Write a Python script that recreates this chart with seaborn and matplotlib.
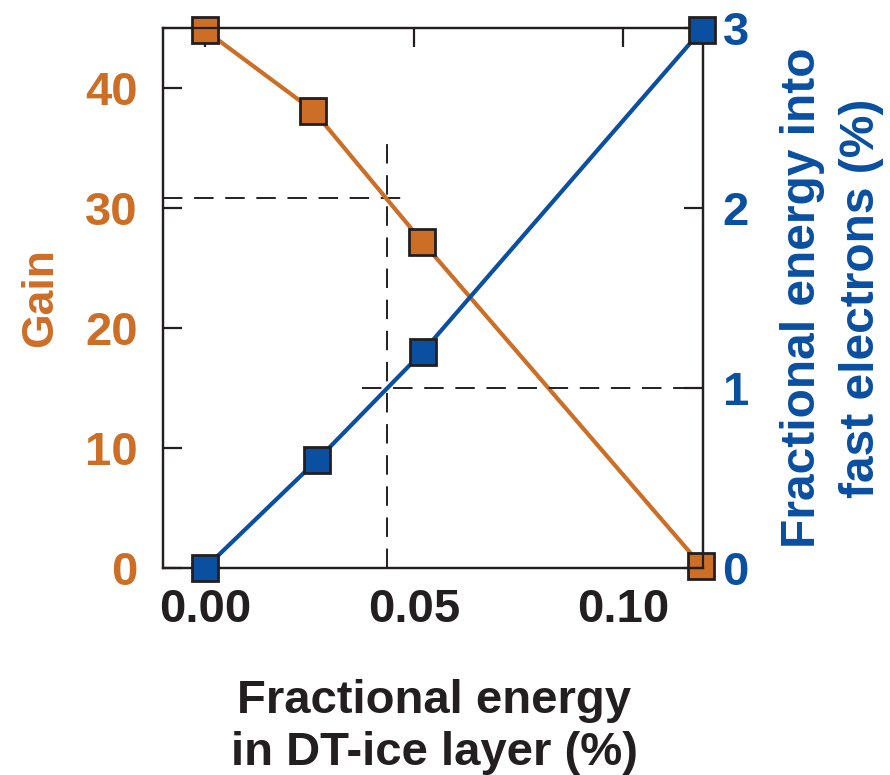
import matplotlib
matplotlib.use("Agg")
import matplotlib.pyplot as plt
import seaborn as sns

# dados
frac_dt = [0.0, 0.0259, 0.0519, 0.1187]
gain = [44.8, 38.1, 27.2, 0.2]
frac_dt_b = [0.0, 0.0268, 0.0520, 0.1188]
frac_fast = [0.0, 0.60, 1.20, 2.99]

# linhas tracejadas de referência
x_ref = 0.0435
gain_ref = 30.8
fast_ref = 1.0

orange = "#CD6E27"
blue = "#0A4FA0"
dark = "#231f20"

sns.set_style("white")
plt.rcParams['font.family'] = ['Liberation Sans', 'DejaVu Sans']
plt.rcParams['font.weight'] = 'bold'

fig = plt.figure(figsize=(8.9, 7.75), dpi=100)
ax = fig.add_axes([0.183, 0.267, 0.607, 0.697])
ax2 = ax.twinx()

# Gain
sns.lineplot(x=frac_dt, y=gain, ax=ax, color=orange, linewidth=3, marker='s',
             markersize=19, markeredgecolor=dark, markeredgewidth=2,
             clip_on=False, zorder=5)
# Fast electrons
sns.lineplot(x=frac_dt_b, y=frac_fast, ax=ax2, color=blue, linewidth=3, marker='s',
             markersize=19, markeredgecolor=dark, markeredgewidth=2,
             clip_on=False, zorder=5)

dash = dict(color=dark, linewidth=1.4, dashes=(10, 6))
ax.plot([-0.0101, 0.0483], [gain_ref, gain_ref], **dash)
ax.plot([x_ref, x_ref], [0, 35.8], **dash)
ax2.plot([0.0375, 0.1191], [fast_ref, fast_ref], **dash)

ax.set_xlim(-0.0101, 0.1191)
ax.set_ylim(0, 45)
ax2.set_ylim(0, 3)
ax.set_xticks([0.0, 0.05, 0.10])
ax.set_xticklabels(['0.00', '0.05', '0.10'])
ax.set_yticks([0, 10, 20, 30, 40])
ax2.set_yticks([0, 1, 2, 3])

for a in (ax, ax2):
    for s in a.spines.values():
        s.set_linewidth(1.6)
        s.set_color(dark)
    a.grid(False)

ax.tick_params(axis='x', direction='in', length=14, width=1.6, top=True,
               labelsize=34, pad=14, colors=dark)
ax.tick_params(axis='y', direction='in', length=14, width=1.6, labelsize=34,
               pad=18, labelcolor=orange, color=dark)
ax2.tick_params(axis='y', direction='in', length=14, width=1.6, labelsize=34,
                pad=14, labelcolor=blue, color=dark)

ax.set_xlabel('Fractional energy\nin DT-ice layer (%)', fontsize=34,
              fontweight='bold', color=dark, linespacing=1.25)
ax.xaxis.set_label_coords(0.502, -0.205, transform=ax.transAxes)
ax.xaxis.label.set_va('top')
ax.set_ylabel('Gain', fontsize=32, fontweight='bold', color=orange, labelpad=17)

# rótulo da direita em duas linhas
ax2.text(1.239, 0.5, 'Fractional energy into\nfast electrons (%)',
         transform=ax2.transAxes, rotation=90, ha='center', va='center',
         multialignment='center', linespacing=1.4, fontsize=34.5,
         fontweight='bold', color=blue)

fig.savefig('out.png', dpi=100)
